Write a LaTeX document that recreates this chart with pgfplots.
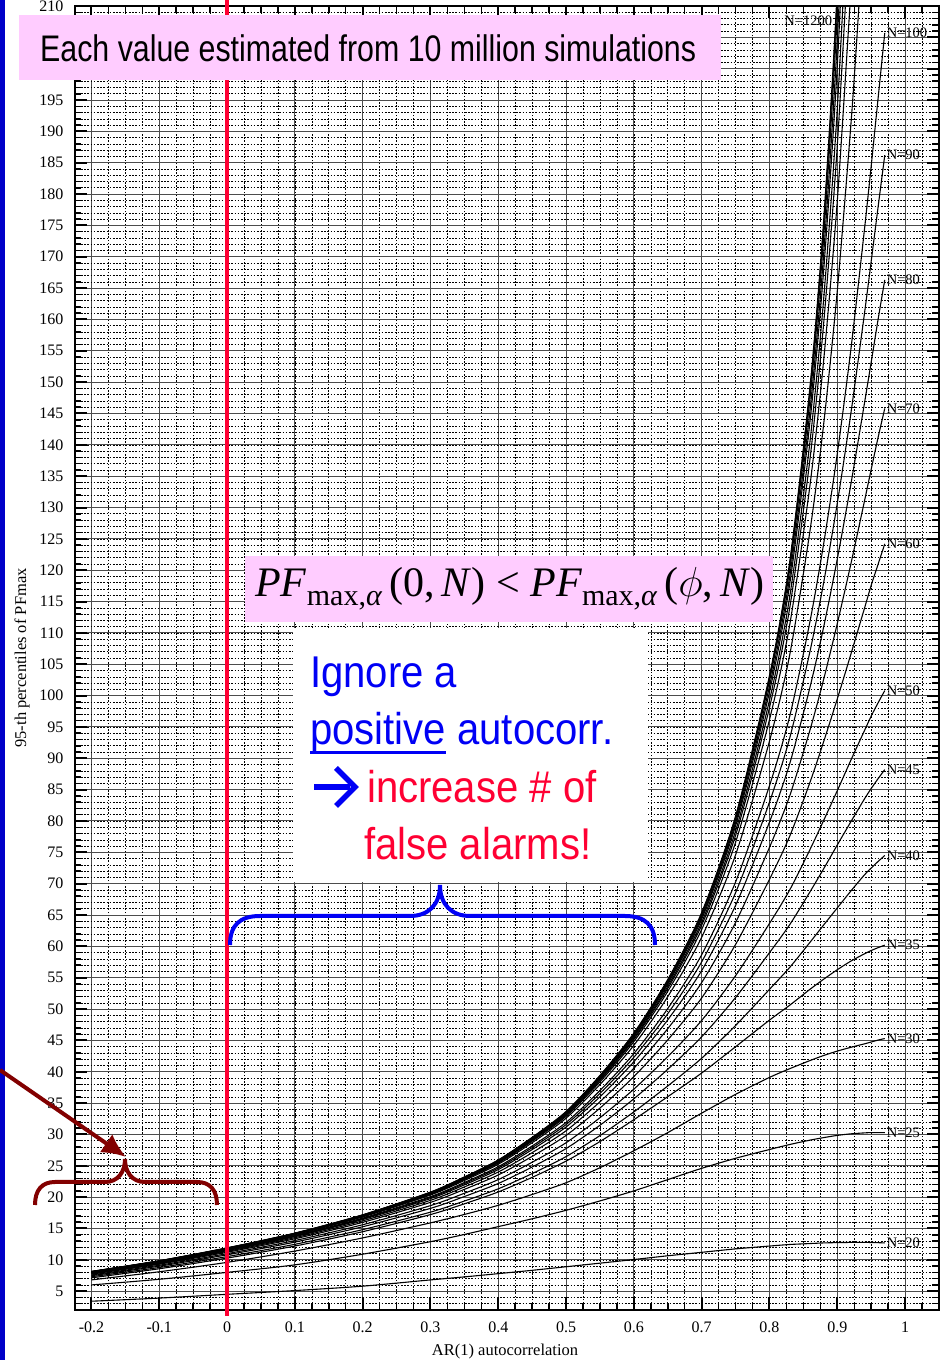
\RequirePackage{fix-cm}
\documentclass[border=0pt]{standalone}
\usepackage{fontspec}
\setmainfont{Liberation Serif}
\newfontfamily\narrowsans[FakeStretch=0.82]{Liberation Sans}
\newfontfamily\calloutsans[FakeStretch=0.9]{Liberation Sans}
\usepackage{pgfplots}
\pgfplotsset{compat=1.18}
\usetikzlibrary{arrows.meta}

\definecolor{stripblue}{RGB}{0,0,200}
\definecolor{zeroline}{RGB}{255,0,51}
\definecolor{notepink}{RGB}{255,204,255}
\definecolor{noteblue}{RGB}{0,0,245}
\definecolor{notered}{RGB}{255,0,51}
\definecolor{bracered}{RGB}{130,0,0}

\newcommand\tickfont{\fontsize{16}{18}\selectfont}
\newcommand\labfont{\fontsize{16.5}{19}\selectfont}
\newcommand\nfont{\fontsize{14.5}{16}\selectfont}
\newcommand\fsub[1]{\raisebox{-9pt}{\fontsize{30}{32}\selectfont #1}}
\tikzset{endlabel/.style={pos=1, anchor=west, font=\nfont, inner sep=1.5pt}}

\begin{document}
\begin{tikzpicture}
\path[use as bounding box] (0pt,0pt) rectangle (940pt,1360pt);
\fill[white] (0pt,0pt) rectangle (940pt,1360pt);
\fill[stripblue] (0pt,0pt) rectangle (4.5pt,1360pt);

\begin{axis}[
  at={(74.5pt,50pt)}, anchor=south west,
  scale only axis, width=864.5pt, height=1304pt,
  xmin=-0.225, xmax=1.05, ymin=2, ymax=210,
  xtick={-0.2,-0.1,0,0.1,0.2,0.3,0.4,0.5,0.6,0.7,0.8,0.9,1},
  xticklabels={-0.2,-0.1,0,0.1,0.2,0.3,0.4,0.5,0.6,0.7,0.8,0.9,1},
  minor xtick={-0.225,-0.2,...,1.05},
  ytick={5,10,...,210},
  yticklabels={5,10,15,20,25,30,35,40,45,50,55,60,65,70,75,80,85,90,95,100,105,110,115,120,125,130,135,140,145,150,155,160,165,170,175,180,185,190,195,{},{},210},
  minor ytick={2,3,...,210},
  tick pos=both, ticklabel pos=left, tick align=inside,
  major tick length=12.5pt, minor tick length=7pt,
  major tick style={line width=2pt, black},
  minor tick style={line width=1.5pt, black},
  grid=both,
  major grid style={line width=1pt, black!70},
  minor grid style={line width=0.6pt, black, dash pattern=on 1.6pt off 1.6pt},
  axis line style={line width=2pt},
  tick label style={font=\tickfont, inner sep=0pt},
  xticklabel style={anchor=north, yshift=-12pt},
  yticklabel style={anchor=east, xshift=-11pt},
  xlabel={AR(1) autocorrelation},
  ylabel={95-th percentiles of PFmax},
  label style={font=\labfont},
  xlabel style={at={(axis description cs:0.498,-0.0322)}, anchor=center},
  ylabel style={at={(axis description cs:-0.0605,0.5)}, anchor=center},
  curve/.style={black, line width=1.1pt, smooth, tension=0.45, mark=none},
]
% series of finite length: these level off before phi = 0.97
\addplot[curve] coordinates {(-0.2,3.4)(-0.1,3.9)(0,4.5)(0.1,5.1)(0.2,5.8)(0.3,6.8)(0.35,7.28)(0.4,7.8)(0.45,8.33)(0.5,8.9)(0.55,9.47)(0.6,10.05)(0.65,10.65)(0.7,11.2)(0.75,11.75)(0.8,12.2)(0.83,12.45)(0.86,12.6)(0.88,12.7)(0.9,12.75)(0.92,12.78)(0.94,12.78)(0.95,12.77)(0.96,12.74)(0.97,12.7)} node[endlabel] {N=20};
\addplot[curve] coordinates {(-0.2,6.0)(-0.1,6.9)(0,8.0)(0.1,9.2)(0.2,10.9)(0.3,12.9)(0.35,14.05)(0.4,15.3)(0.45,16.55)(0.5,17.9)(0.55,19.4)(0.6,21.0)(0.65,22.8)(0.7,24.6)(0.75,26.2)(0.8,27.6)(0.83,28.4)(0.86,29.1)(0.88,29.5)(0.9,29.85)(0.92,30.1)(0.94,30.25)(0.95,30.3)(0.96,30.3)(0.97,30.3)} node[endlabel] {N=25};
\addplot[curve] coordinates {(-0.2,6.8)(-0.1,8.1)(0,9.6)(0.1,11.4)(0.2,13.5)(0.3,15.9)(0.35,17.24)(0.4,18.7)(0.45,20.42)(0.5,22.3)(0.55,24.7)(0.6,27.4)(0.65,30.3)(0.7,33.4)(0.75,36.4)(0.8,39.1)(0.83,40.5)(0.86,41.8)(0.88,42.6)(0.9,43.3)(0.92,43.9)(0.94,44.45)(0.95,44.75)(0.96,45.05)(0.97,45.3)} node[endlabel] {N=30};
\addplot[curve] coordinates {(-0.2,7.13)(-0.1,8.58)(0,10.28)(0.1,12.2)(0.2,14.49)(0.3,17.22)(0.35,18.94)(0.4,20.83)(0.45,23.16)(0.5,25.75)(0.55,28.87)(0.6,32.36)(0.65,36.03)(0.7,39.8)(0.75,43.99)(0.8,48.24)(0.83,50.63)(0.86,53.18)(0.88,54.77)(0.9,56.28)(0.92,57.65)(0.94,58.81)(0.95,59.34)(0.96,59.79)(0.97,60.2)} node[endlabel] {N=35};
\addplot[curve] coordinates {(-0.2,7.31)(-0.1,8.78)(0,10.52)(0.1,12.48)(0.2,14.82)(0.3,17.61)(0.35,19.38)(0.4,21.33)(0.45,23.76)(0.5,26.47)(0.55,29.82)(0.6,33.60)(0.65,37.74)(0.7,42.16)(0.75,47.39)(0.8,53.15)(0.83,56.67)(0.86,60.69)(0.88,63.43)(0.9,66.14)(0.92,68.83)(0.94,71.40)(0.95,72.49)(0.96,73.53)(0.97,74.5)} node[endlabel] {N=40};
\addplot[curve] coordinates {(-0.2,7.47)(-0.1,8.99)(0,10.8)(0.1,12.83)(0.2,15.28)(0.3,18.21)(0.35,20.10)(0.4,22.18)(0.45,24.81)(0.5,27.75)(0.55,31.47)(0.6,35.69)(0.65,40.40)(0.7,45.58)(0.75,51.85)(0.8,59.0)(0.83,63.49)(0.86,68.75)(0.88,72.40)(0.9,76.18)(0.92,79.88)(0.94,83.51)(0.95,85.18)(0.96,86.73)(0.97,88.2)} node[endlabel] {N=45};
\addplot[curve] coordinates {(-0.2,7.59)(-0.1,9.14)(0,10.99)(0.1,13.08)(0.2,15.60)(0.3,18.65)(0.35,20.62)(0.4,22.80)(0.45,25.57)(0.5,28.68)(0.55,32.68)(0.6,37.23)(0.65,42.41)(0.7,48.19)(0.75,55.33)(0.8,63.66)(0.83,69.04)(0.86,75.51)(0.88,80.12)(0.9,84.84)(0.92,89.70)(0.94,94.40)(0.95,96.74)(0.96,98.82)(0.97,100.8)} node[endlabel] {N=50};
\addplot[curve] coordinates {(-0.2,7.72)(-0.1,9.31)(0,11.21)(0.1,13.36)(0.2,15.98)(0.3,19.17)(0.35,21.24)(0.4,23.54)(0.45,26.50)(0.5,29.84)(0.55,34.21)(0.6,39.23)(0.65,45.09)(0.7,51.78)(0.75,60.31)(0.8,70.70)(0.83,77.62)(0.86,86.26)(0.88,92.70)(0.9,99.48)(0.92,106.6)(0.94,113.9)(0.95,117.6)(0.96,120.9)(0.97,124.2)} node[endlabel] {N=60};
\addplot[curve] coordinates {(-0.2,7.81)(-0.1,9.41)(0,11.35)(0.1,13.54)(0.2,16.22)(0.3,19.49)(0.35,21.63)(0.4,24.01)(0.45,27.10)(0.5,30.59)(0.55,35.22)(0.6,40.56)(0.65,46.88)(0.7,54.23)(0.75,63.81)(0.8,75.80)(0.83,84.07)(0.86,94.62)(0.88,102.65)(0.9,111.5)(0.92,121.0)(0.94,131.0)(0.95,136.1)(0.96,141.1)(0.97,145.8)} node[endlabel] {N=70};
\addplot[curve] coordinates {(-0.2,7.89)(-0.1,9.51)(0,11.47)(0.1,13.70)(0.2,16.43)(0.3,19.77)(0.35,21.96)(0.4,24.40)(0.45,27.59)(0.5,31.19)(0.55,36.02)(0.6,41.60)(0.65,48.29)(0.7,56.14)(0.75,66.54)(0.8,79.84)(0.83,89.21)(0.86,101.47)(0.88,111.0)(0.9,121.8)(0.92,133.7)(0.94,146.6)(0.95,153.2)(0.96,159.9)(0.97,166.3)} node[endlabel] {N=80};
\addplot[curve] coordinates {(-0.2,7.93)(-0.1,9.57)(0,11.55)(0.1,13.80)(0.2,16.55)(0.3,19.94)(0.35,22.17)(0.4,24.65)(0.45,27.90)(0.5,31.58)(0.55,36.55)(0.6,42.31)(0.65,49.27)(0.7,57.53)(0.75,68.57)(0.8,83.02)(0.83,93.31)(0.86,107.2)(0.88,118.1)(0.9,130.7)(0.92,145.0)(0.94,160.9)(0.95,169.3)(0.96,177.8)(0.97,186.2)} node[endlabel] {N=90};
\addplot[curve] coordinates {(-0.2,7.97)(-0.1,9.62)(0,11.61)(0.1,13.88)(0.2,16.66)(0.3,20.08)(0.35,22.34)(0.4,24.86)(0.45,28.17)(0.5,31.92)(0.55,37.01)(0.6,42.91)(0.65,50.09)(0.7,58.67)(0.75,70.28)(0.8,85.64)(0.83,96.79)(0.86,112.0)(0.88,124.3)(0.9,138.6)(0.92,155.2)(0.94,174.3)(0.95,184.5)(0.96,195.1)(0.97,205.7)} node[endlabel] {N=100};
% longer series: these leave the frame through the top
\addplot[curve] coordinates {(-0.2,8.02)(-0.1,9.69)(0,11.70)(0.1,14.00)(0.2,16.84)(0.3,20.34)(0.35,22.66)(0.4,25.25)(0.45,28.69)(0.5,32.59)(0.55,37.97)(0.6,44.23)(0.65,51.99)(0.7,61.45)(0.75,74.61)(0.8,92.75)(0.83,106.6)(0.86,126.5)(0.88,143.4)(0.9,164.6)(0.92,191.0)(0.93,206.8)(0.94,224.8)};
\addplot[curve] coordinates {(-0.2,8.04)(-0.1,9.72)(0,11.75)(0.1,14.06)(0.2,16.92)(0.3,20.46)(0.35,22.82)(0.4,25.44)(0.45,28.93)(0.5,32.89)(0.55,38.39)(0.6,44.82)(0.65,52.84)(0.7,62.70)(0.75,76.61)(0.8,96.17)(0.83,111.4)(0.86,133.8)(0.88,153.6)(0.9,178.9)(0.92,212.4)};
\addplot[curve] coordinates {(-0.2,8.06)(-0.1,9.75)(0,11.78)(0.1,14.11)(0.2,16.98)(0.3,20.52)(0.35,22.89)(0.4,25.54)(0.45,29.06)(0.5,33.07)(0.55,38.64)(0.6,45.15)(0.65,53.31)(0.7,63.39)(0.75,77.71)(0.8,98.09)(0.83,114.1)(0.86,138.0)(0.88,159.5)(0.9,187.7)(0.92,226.0)};
\addplot[curve] coordinates {(-0.2,8.08)(-0.1,9.77)(0,11.80)(0.1,14.13)(0.2,17.02)(0.3,20.58)(0.35,22.96)(0.4,25.61)(0.45,29.16)(0.5,33.20)(0.55,38.81)(0.6,45.37)(0.65,53.63)(0.7,63.85)(0.75,78.43)(0.8,99.27)(0.83,115.9)(0.86,140.8)(0.88,163.4)(0.9,193.6)(0.92,235.3)};
\addplot[curve] coordinates {(-0.2,8.10)(-0.1,9.79)(0,11.82)(0.1,14.16)(0.2,17.06)(0.3,20.64)(0.35,23.03)(0.4,25.70)(0.45,29.27)(0.5,33.33)(0.55,38.99)(0.6,45.62)(0.65,53.98)(0.7,64.36)(0.75,79.24)(0.8,100.6)(0.83,117.9)(0.86,144.0)(0.88,168.0)(0.9,200.5)(0.92,246.7)};
\addplot[curve] coordinates {(-0.2,8.11)(-0.1,9.80)(0,11.85)(0.1,14.19)(0.2,17.09)(0.3,20.69)(0.35,23.09)(0.4,25.77)(0.45,29.35)(0.5,33.43)(0.55,39.12)(0.6,45.79)(0.65,54.22)(0.7,64.69)(0.75,79.74)(0.8,101.5)(0.83,119.1)(0.86,145.8)(0.88,170.6)(0.9,204.6)(0.92,253.4)};
\addplot[curve] coordinates {(-0.2,8.12)(-0.1,9.82)(0,11.87)(0.1,14.22)(0.2,17.13)(0.3,20.74)(0.35,23.15)(0.4,25.83)(0.45,29.42)(0.5,33.52)(0.55,39.25)(0.6,45.95)(0.65,54.44)(0.7,65.01)(0.75,80.22)(0.8,102.4)(0.83,120.3)(0.86,147.7)(0.88,173.3)(0.9,208.8)(0.92,260.5)};
\addplot[curve] coordinates {(-0.2,8.14)(-0.1,9.84)(0,11.89)(0.1,14.24)(0.2,17.16)(0.3,20.78)(0.35,23.19)(0.4,25.89)(0.45,29.49)(0.5,33.60)(0.55,39.35)(0.6,46.09)(0.65,54.62)(0.7,65.26)(0.75,80.59)(0.8,102.9)(0.83,121.1)(0.86,149.0)(0.88,175.2)(0.9,211.7)(0.92,265.3)};
\addplot[curve] coordinates {(-0.2,8.15)(-0.1,9.86)(0,11.91)(0.1,14.26)(0.2,17.18)(0.3,20.80)(0.35,23.22)(0.4,25.93)(0.45,29.54)(0.5,33.66)(0.55,39.42)(0.6,46.17)(0.65,54.73)(0.7,65.4)(0.75,80.8)(0.8,103.2)(0.83,121.5)(0.86,149.6)(0.88,176.0)(0.9,212.9)(0.92,267.0)};
\node[anchor=east, font=\nfont, inner sep=1pt] at (axis cs:0.894,207.6) {N=1200};
\coordinate (zx) at (axis cs:0,100);
\end{axis}

\begin{scope}[x=1pt,y=1pt]
% vertical marker at zero autocorrelation
\draw[zeroline, line width=4pt] (zx |- 0,1360) -- (zx |- 0,43.5);

% note at the top
\fill[notepink] (19,1280) rectangle (721,1345);
\node[anchor=base west, inner sep=0pt, font=\narrowsans\fontsize{37}{40}\selectfont] at (40,1298.5) {Each value estimated from 10 million simulations};

% inequality
\fill[notepink] (245,738) rectangle (773,804);
\node[anchor=base west, inner sep=0pt] at (255,763) {\fontsize{42}{46}\selectfont \textit{PF}\fsub{max,\textit{α}}\,(0,\,\textit{N})\ <\ \textit{PF}\fsub{max,\textit{α}}\,($\phi$,\,\textit{N})};

% callout
\fill[white] (293,478) rectangle (648,732);
\begin{scope}[every node/.style={anchor=base west, inner sep=0pt, font=\calloutsans\fontsize{44.5}{48}\selectfont}]
\node[text=noteblue] at (310,672) {Ignore a};
\node[text=noteblue] (pos) at (310,615) {positive};
\node[text=noteblue, anchor=base west] at ([xshift=11pt]pos.base east) {autocorr.};
\node[text=notered] at (367,557) {increase \# of};
\node[text=notered] at (364,500) {false alarms!};
\end{scope}
\draw[noteblue, line width=3pt] ([yshift=-8pt]pos.base west) -- ([yshift=-8pt]pos.base east);
\draw[noteblue, line width=5.5pt] (314,573) -- (350,573);
\draw[noteblue, line width=5.5pt, line cap=butt, line join=miter] (336,592) -- (355,573) -- (336,554);

% blue brace over the positive range
\draw[noteblue, line width=4pt] (230,415) .. controls (230,435) and (240,444) .. (260,444) -- (410,444) .. controls (428,444) and (440,455) .. (440,475) .. controls (440,455) and (452,444) .. (470,444) -- (625,444) .. controls (645,444) and (655,435) .. (655,415);

% dark red brace and pointer over the negative range
\draw[bracered, line width=4pt] (35,155) .. controls (35,170) and (42,178) .. (55,178) -- (105,178) .. controls (118,178) and (125,188) .. (125,201) .. controls (125,188) and (132,178) .. (145,178) -- (197,178) .. controls (210,178) and (217,170) .. (217,155);
\draw[bracered, line width=4pt, -{Latex[length=24pt,width=22pt]}] (0,290) -- (126,203);
\end{scope}
\end{tikzpicture}
\end{document}
